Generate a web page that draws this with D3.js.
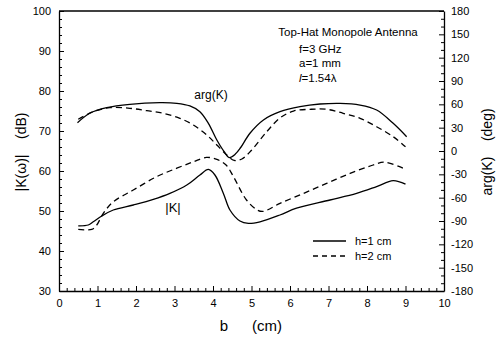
<!DOCTYPE html>
<html>
<head>
<meta charset="utf-8">
<script src="https://cdn.jsdelivr.net/npm/d3@7"></script>
<style>
  html, body { margin: 0; padding: 0; background: #fff; }
  svg { display: block; }
  text { font-family: "Liberation Sans", Arial, Helvetica, sans-serif; fill: #000; }
</style>
</head>
<body>
<svg id="chart" width="501" height="340"></svg>
<script>
// ---- Data ----
// arg(K) in degrees, right axis
const bArgH1 = [0.48, 0.8, 1.24, 1.84, 2.62, 3.06, 3.40, 3.66, 3.88, 4.10, 4.29, 4.42, 4.58, 4.72, 4.96, 5.31, 5.74, 6.26, 6.78, 7.30, 7.82, 8.25, 8.68, 9.03];
const argH1  = [36.4, 48.5, 55.7, 60.0, 62.1, 61.3, 57.9, 50.5, 35.6, 14.1, -0.9, -8.4, -4.0, 4.5, 22.8, 39.9, 50.5, 57.0, 60.4, 61.3, 59.1, 52.7, 35.6, 18.4];

const bArgH2 = [0.5, 0.89, 1.32, 1.84, 2.28, 2.71, 3.14, 3.49, 3.84, 4.10, 4.36, 4.55, 4.75, 5.0, 5.4, 5.74, 6.09, 6.52, 6.95, 7.38, 7.82, 8.25, 8.68, 9.0];
const argH2  = [40.8, 50.5, 55.7, 54.9, 51.8, 48.5, 42.0, 33.4, 20.6, 7.7, -5.1, -12.2, -10.3, 1.0, 25.0, 42.5, 51.4, 53.6, 53.6, 48.5, 42.0, 31.2, 18.4, 5.5];

// |K| in dB, left axis
const bMagH1 = [0.50, 0.76, 0.89, 1.11, 1.41, 1.93, 2.45, 2.88, 3.32, 3.66, 3.88, 4.05, 4.27, 4.44, 4.70, 4.92, 5.22, 5.74, 6.17, 7.04, 7.73, 8.25, 8.68, 9.0];
const magH1  = [46.3, 46.5, 47.3, 48.75, 50.25, 51.5, 52.9, 54.4, 56.5, 59.0, 60.4, 59.0, 54.4, 50.25, 47.5, 46.9, 47.3, 49.0, 50.7, 52.75, 54.4, 56.1, 57.6, 56.7];

const bMagH2 = [0.5, 0.85, 0.98, 1.15, 1.41, 1.93, 2.54, 3.06, 3.49, 3.83, 4.1, 4.34, 4.53, 4.87, 5.15, 5.3, 5.74, 6.35, 6.95, 7.56, 8.16, 8.45, 8.94];
const magH2  = [45.4, 45.4, 46.5, 49.4, 52.3, 55.25, 58.6, 60.7, 62.3, 63.4, 62.9, 61.5, 58.6, 52.75, 50.25, 49.9, 51.9, 54.4, 56.9, 59.4, 61.5, 62.2, 60.7];

// Axis ticks
const xTicks = [0, 1, 2, 3, 4, 5, 6, 7, 8, 9, 10];
const yLeftTicks = [30, 40, 50, 60, 70, 80, 90, 100];
const yRightTicks = [-180, -150, -120, -90, -60, -30, 0, 30, 60, 90, 120, 150, 180];

// Text
const annotationLines = ["Top-Hat Monopole Antenna", "f=3 GHz", "a=1 mm"];
const legendLabels = ["h=1 cm", "h=2 cm"];

// ---- Drawing ----
const svg = d3.select("#chart");
const x = d3.scaleLinear().domain([0, 10]).range([59, 444]);
const yL = d3.scaleLinear().domain([30, 100]).range([291, 11]);
const yR = d3.scaleLinear().domain([-180, 180]).range([291, 11]);

const axisColor = "#000";

// frame top
svg.append("line").attr("x1", x(0)).attr("x2", x(10)).attr("y1", yL(100)).attr("y2", yL(100))
  .attr("stroke", axisColor).attr("stroke-width", 1.3);

function styleAxis(g) {
  g.selectAll("path.domain").attr("stroke", axisColor).attr("stroke-width", 1.3);
  g.selectAll(".tick line").attr("stroke", axisColor).attr("stroke-width", 1);
  g.selectAll(".tick text").attr("font-size", 11).attr("font-family", '"Liberation Sans", Arial, sans-serif').attr("fill", "#000");
}

// bottom axis
const minorX = d3.range(0, 10.001, 0.2).filter(v => Math.abs(v - Math.round(v)) > 1e-6);
svg.append("g").attr("transform", `translate(0,${yL(30)})`)
  .call(d3.axisBottom(x).tickValues(minorX).tickSize(-3).tickFormat("").tickSizeOuter(0))
  .call(g => g.select("path.domain").remove())
  .call(styleAxis);
svg.append("g").attr("transform", `translate(0,${yL(30)})`)
  .call(d3.axisBottom(x).tickValues(xTicks).tickSize(-5).tickSizeOuter(0).tickPadding(8).tickFormat(d3.format("d")))
  .call(styleAxis);

// left axis
const minorYL = d3.range(30, 100.001, 2).filter(v => v % 10 !== 0);
svg.append("g").attr("transform", `translate(${x(0)},0)`)
  .call(d3.axisLeft(yL).tickValues(minorYL).tickSize(-3).tickFormat("").tickSizeOuter(0))
  .call(g => g.select("path.domain").remove())
  .call(styleAxis);
svg.append("g").attr("transform", `translate(${x(0)},0)`)
  .call(d3.axisLeft(yL).tickValues(yLeftTicks).tickSize(-5).tickSizeOuter(0).tickPadding(8).tickFormat(d3.format("d")))
  .call(styleAxis);

// right axis
const minorYR = d3.range(-180, 180.001, 10).filter(v => v % 30 !== 0);
svg.append("g").attr("transform", `translate(${x(10)},0)`)
  .call(d3.axisRight(yR).tickValues(minorYR).tickSize(-3).tickFormat("").tickSizeOuter(0))
  .call(g => g.select("path.domain").remove())
  .call(styleAxis);
svg.append("g").attr("transform", `translate(${x(10)},0)`)
  .call(d3.axisRight(yR).tickValues(yRightTicks).tickSize(-5).tickSizeOuter(0).tickPadding(7).tickFormat(v => (v < 0 ? "-" : "") + Math.abs(v)))
  .call(styleAxis);

// curves
const curve = d3.curveCatmullRom.alpha(0.5);
const lineArg = d3.line().x(d => x(d[0])).y(d => yR(d[1])).curve(curve);
const lineMag = d3.line().x(d => x(d[0])).y(d => yL(d[1])).curve(curve);
const zip = (a, b) => a.map((v, i) => [v, b[i]]);

const series = [
  { d: lineArg(zip(bArgH1, argH1)), dash: null },
  { d: lineArg(zip(bArgH2, argH2)), dash: "6,4" },
  { d: lineMag(zip(bMagH1, magH1)), dash: null },
  { d: lineMag(zip(bMagH2, magH2)), dash: "6,4" },
];
series.forEach(s => {
  svg.append("path").attr("d", s.d).attr("fill", "none").attr("stroke", "#000")
    .attr("stroke-width", 1.3).attr("stroke-dasharray", s.dash);
});

// curve labels
svg.append("text").attr("x", 211).attr("y", 99).attr("text-anchor", "middle").attr("font-size", 12).text("arg(K)");
svg.append("text").attr("x", 173).attr("y", 212).attr("text-anchor", "middle").attr("font-size", 13).text("|K|");

// annotation
svg.append("text").attr("x", 348).attr("y", 36).attr("text-anchor", "middle").attr("font-size", 11.5).text(annotationLines[0]);
svg.append("text").attr("x", 299).attr("y", 53).attr("font-size", 11.5).text(annotationLines[1]);
svg.append("text").attr("x", 299).attr("y", 67).attr("font-size", 11.5).text(annotationLines[2]);
const lt = svg.append("text").attr("x", 299).attr("y", 82).attr("font-size", 11.5);
lt.append("tspan").attr("font-style", "italic").text("l");
lt.append("tspan").text("=1.54λ");

// legend
[0, 1].forEach(i => {
  const yy = 241 + i * 15;
  svg.append("line").attr("x1", 313).attr("x2", 346).attr("y1", yy).attr("y2", yy)
    .attr("stroke", "#000").attr("stroke-width", 1.3).attr("stroke-dasharray", i === 1 ? "5,4" : null);
  svg.append("text").attr("x", 355).attr("y", yy + 4).attr("font-size", 11).text(legendLabels[i]);
});

// axis titles
svg.append("text").attr("x", 224).attr("y", 331).attr("text-anchor", "middle").attr("font-size", 15).text("b");
svg.append("text").attr("x", 267).attr("y", 331).attr("text-anchor", "middle").attr("font-size", 15).text("(cm)");
svg.append("text").attr("transform", "translate(26,152) rotate(-90)").attr("text-anchor", "middle")
  .attr("font-size", 14).style("white-space", "pre").text("|K(ω)|    (dB)");
svg.append("text").attr("transform", "translate(492,152) rotate(-90)").attr("text-anchor", "middle")
  .attr("font-size", 14).style("white-space", "pre").text("arg(K)    (deg)");
</script>
</body>
</html>
